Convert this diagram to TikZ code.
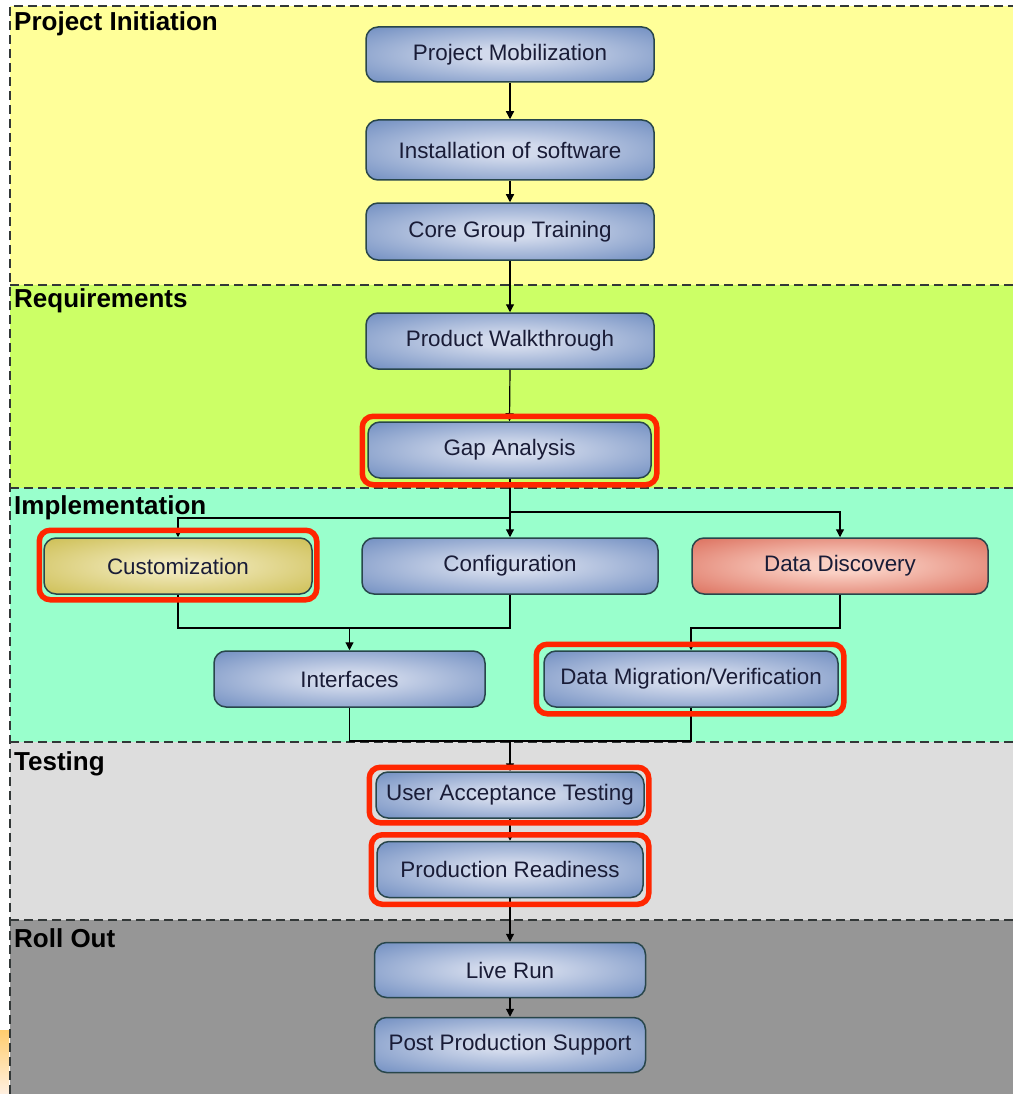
\documentclass[tikz,border=0pt]{standalone}
\usepackage{fontspec}
\setmainfont{Liberation Sans}
\usetikzlibrary{arrows.meta}
\definecolor{laneA}{HTML}{FFFF99}
\definecolor{laneB}{HTML}{CCFF66}
\definecolor{laneC}{HTML}{99FFCC}
\definecolor{laneD}{HTML}{DDDDDD}
\definecolor{laneE}{HTML}{969696}
\definecolor{bluein}{RGB}{210,218,236}
\definecolor{blueout}{RGB}{92,126,184}
\definecolor{olivein}{RGB}{240,232,185}
\definecolor{oliveout}{RGB}{198,182,62}
\definecolor{redin}{RGB}{250,208,196}
\definecolor{redout}{RGB}{214,92,72}
\definecolor{nodebd}{RGB}{40,70,75}
\definecolor{txtc}{RGB}{25,28,55}
\definecolor{hlred}{RGB}{255,38,0}
\definecolor{lanebdc}{RGB}{50,55,55}
\definecolor{patchtop}{RGB}{255,205,110}
\definecolor{patchbot}{RGB}{255,240,225}
\pgfdeclareradialshading{blueshade}{\pgfpoint{0bp}{0bp}}{color(0bp)=(bluein); color(6bp)=(bluein); color(42bp)=(blueout); color(72bp)=(blueout)}
\pgfdeclareradialshading{oliveshade}{\pgfpoint{0bp}{0bp}}{color(0bp)=(olivein); color(6bp)=(olivein); color(42bp)=(oliveout); color(72bp)=(oliveout)}
\pgfdeclareradialshading{redshade}{\pgfpoint{0bp}{0bp}}{color(0bp)=(redin); color(6bp)=(redin); color(42bp)=(redout); color(72bp)=(redout)}
\tikzset{
  proc/.style={draw=nodebd, line width=1.5pt, rounded corners=12pt, shading=blueshade,
    text=txtc, font=\fontsize{22.4}{26}\selectfont, inner sep=0pt, minimum height=56pt},
  procolive/.style={proc, shading=oliveshade},
  procred/.style={proc, shading=redshade},
  arr/.style={draw=black, line width=1.2pt, -{Triangle[length=8pt,width=8pt]}},
  link/.style={draw=black, line width=1.2pt},
  hl/.style={draw=hlred, line width=5.5pt, rounded corners=11pt},
  lanebd/.style={draw=lanebdc, line width=1.5pt, dash pattern=on 9pt off 5pt},
  lanelbl/.style={anchor=base west, inner sep=0pt, font=\bfseries\fontsize{26}{29}\selectfont, text=black}
}
\begin{document}
\begin{tikzpicture}[x=1pt,y=-1pt]
\useasboundingbox (0,0) rectangle (1013,1094);
\fill[white] (0,0) rectangle (1013,1094);
\shade[top color=patchtop, bottom color=patchbot] (0,1030) rectangle (9,1094);
% lanes
\fill[laneA] (10,6) rectangle (1013,285);
\fill[laneB] (10,285) rectangle (1013,488);
\fill[laneC] (10,488) rectangle (1013,742);
\fill[laneD] (10,742) rectangle (1013,920);
\fill[laneE] (10,920) rectangle (1013,1094);
\draw[lanebd] (10,1094) -- (10,6) -- (1013,6);
\draw[lanebd] (10,285) -- (1013,285);
\draw[lanebd] (10,488) -- (1013,488);
\draw[lanebd] (10,742) -- (1013,742);
\draw[lanebd] (10,920) -- (1013,920);
% lane labels
\node[lanelbl] (l1) at (14,31) {Project Initiation};
\node[lanelbl] (l2) at (14,307) {Requirements};
\node[lanelbl] (l3) at (14,514) {Implementation};
\node[lanelbl] (l4) at (14,770) {Testing};
\node[lanelbl] (l5) at (14,947) {Roll Out};
% nodes
\node[proc, minimum width=288pt, minimum height=55pt] (pm) at (510,54.5) {Project Mobilization};
\node[proc, minimum width=288pt, minimum height=60pt] (ios) at (510,150) {Installation of software};
\node[proc, minimum width=288pt, minimum height=57pt] (cgt) at (510,231.5) {Core Group Training};
\node[proc, minimum width=288pt] (pw) at (510,341) {Product Walkthrough};
\node[proc, minimum width=283pt] (ga) at (509.5,450) {Gap Analysis};
\node[procolive, minimum width=268pt] (cus) at (178,566) {Customization};
\node[proc, minimum width=296pt] (cfg) at (510,566) {Configuration};
\node[procred, minimum width=296pt] (dd) at (840,566) {Data Discovery};
\node[proc, minimum width=271pt] (int) at (349.5,679) {Interfaces};
\node[proc, minimum width=294pt] (dmv) at (691,679) {Data Migration/Verification};
\node[proc, minimum width=268pt, minimum height=46pt] (uat) at (510,795) {User Acceptance Testing};
\node[proc, minimum width=266pt, minimum height=56pt] (pr) at (510,869.5) {Production Readiness};
\node[proc, minimum width=271pt, minimum height=55pt] (lr) at (510,970) {Live Run};
\node[proc, minimum width=271pt, minimum height=55pt] (pps) at (510,1045) {Post Production Support};
% connectors
\draw[arr] (pm.south) -- (ios.north);
\draw[arr] (ios.south) -- (cgt.north);
\draw[arr] (cgt.south) -- (pw.north);
\draw[arr] (pw.south) -- (ga.north);
\draw[arr] (ga.south -| cfg.north) -- (cfg.north);
\coordinate (jl) at (510,518);
\coordinate (jr) at (510,512);
\draw[arr] (jl) -| (cus.north);
\draw[arr] (jr) -| (dd.north);
\draw[link] (cus.south) |- (cfg.south |- 0,628) -- (cfg.south);
\draw[arr] (int.north |- 0,628) -- (int.north);
\draw[arr] (dd.south) |- (dmv.north |- 0,628) -- (dmv.north);
\draw[link] (int.south) |- (dmv.south |- 0,741) -- (dmv.south);
\draw[arr] (uat.north |- 0,741) -- (uat.north);
\draw[arr] (uat.south) -- (pr.north);
\draw[arr] (pr.south) -- (lr.north);
\draw[arr] (lr.south) -- (pps.north);
% highlights
\draw[hl] ([shift={(-5,-5)}]ga.north west) rectangle ([shift={(5,6)}]ga.south east);
\draw[hl] ([shift={(-4,-7)}]cus.north west) rectangle ([shift={(4,5)}]cus.south east);
\draw[hl] ([shift={(-7,-6)}]dmv.north west) rectangle ([shift={(5,6)}]dmv.south east);
\draw[hl] ([shift={(-6,-4)}]uat.north west) rectangle ([shift={(4,4)}]uat.south east);
\draw[hl] ([shift={(-5,-6)}]pr.north west) rectangle ([shift={(5,6)}]pr.south east);
\end{tikzpicture}
\end{document}
